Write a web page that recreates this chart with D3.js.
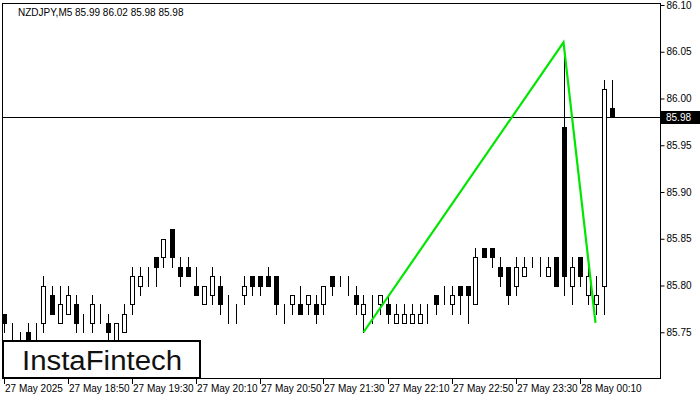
<!DOCTYPE html>
<html><head><meta charset="utf-8">
<script src="https://cdn.jsdelivr.net/npm/d3@7"></script>
<style>
html,body{margin:0;padding:0;background:#fff;}
svg{display:block;}
text{font-family:"Liberation Sans",Arial,sans-serif;}
</style></head>
<body>
<svg id="chart" width="700" height="400"></svg>
<script>
// ---- data ----
const symbolTitle = "NZDJPY,M5  85.99 86.02 85.98 85.98";
const opens  = [85.77,85.75,85.74,85.75,85.75,85.76,85.79,85.76,85.77,85.78,85.75,85.76,85.77,85.76,85.74,85.75,85.78,85.80,85.82,85.83,85.83,85.86,85.82,85.82,85.80,85.78,85.79,85.80,85.77,85.78,85.79,85.81,85.81,85.81,85.81,85.77,85.78,85.78,85.78,85.78,85.78,85.81,85.81,85.80,85.79,85.77,85.77,85.78,85.78,85.76,85.76,85.76,85.76,85.78,85.79,85.79,85.78,85.80,85.80,85.78,85.84,85.84,85.82,85.82,85.80,85.81,85.83,85.82,85.81,85.83,85.97,85.80,85.83,85.79,85.78,85.80,85.99];
const highs  = [85.77,85.76,85.75,85.76,85.76,85.81,85.80,85.80,85.80,85.79,85.77,85.79,85.78,85.77,85.76,85.78,85.82,85.82,85.82,85.83,85.85,85.86,85.83,85.83,85.82,85.80,85.82,85.81,85.79,85.78,85.81,85.81,85.81,85.82,85.81,85.78,85.79,85.80,85.79,85.79,85.80,85.81,85.81,85.81,85.80,85.79,85.79,85.79,85.79,85.78,85.78,85.78,85.78,85.78,85.79,85.80,85.80,85.80,85.80,85.84,85.84,85.84,85.83,85.82,85.83,85.83,85.83,85.83,85.83,85.83,86.05,85.83,85.83,85.82,85.81,86.02,86.02];
const lows   = [85.75,85.74,85.73,85.73,85.74,85.75,85.77,85.76,85.77,85.75,85.75,85.75,85.76,85.74,85.73,85.75,85.77,85.79,85.80,85.80,85.82,85.82,85.80,85.81,85.79,85.78,85.78,85.77,85.76,85.76,85.78,85.79,85.79,85.80,85.77,85.76,85.77,85.77,85.77,85.76,85.77,85.79,85.80,85.79,85.77,85.75,85.76,85.77,85.76,85.76,85.76,85.76,85.76,85.76,85.77,85.78,85.77,85.77,85.76,85.78,85.83,85.82,85.80,85.78,85.79,85.81,85.82,85.81,85.81,85.80,85.79,85.78,85.80,85.78,85.77,85.77,85.98];
const closes = [85.76,85.75,85.74,85.74,85.75,85.80,85.77,85.78,85.79,85.76,85.75,85.78,85.77,85.75,85.76,85.77,85.81,85.81,85.82,85.82,85.85,85.83,85.81,85.81,85.79,85.80,85.81,85.78,85.77,85.78,85.80,85.80,85.80,85.80,85.78,85.77,85.79,85.77,85.79,85.77,85.80,85.80,85.81,85.80,85.78,85.78,85.77,85.79,85.77,85.77,85.77,85.77,85.77,85.78,85.78,85.79,85.79,85.79,85.79,85.83,85.83,85.83,85.81,85.79,85.82,85.82,85.83,85.82,85.82,85.80,85.81,85.82,85.81,85.81,85.79,86.01,85.98];
const timeTickIndex  = [0,8,16,24,32,40,48,56,64,72];
const timeTickLabels = ["27 May 2025","27 May 18:50","27 May 19:30","27 May 20:10","27 May 20:50","27 May 21:30","27 May 22:10","27 May 22:50","27 May 23:30","28 May 00:10"];
const priceTicks = [85.75,85.80,85.85,85.90,85.95,86.00,86.05,86.10];
const lastPrice = 85.98;
const patternIndex = [45,70,74];
const patternPrice = [85.75,86.06,85.76];
const logoText = "InstaFintech";

// ---- layout ----
const svg = d3.select("#chart");
const L = 2, R = 660, T = 5, B = 379;
const x = d3.scaleLinear().domain([0, opens.length - 1]).range([3.5, 611.5]);
const y = d3.scaleLinear().domain([85.70, 86.10]).range([B, T]);

svg.append("rect").attr("x",0).attr("y",0).attr("width",700).attr("height",400).attr("fill","#fff");

svg.append("defs").append("clipPath").attr("id","plot")
  .append("rect").attr("x",L+1).attr("y",T).attr("width",R-L-1).attr("height",B-T);

const g = svg.append("g").attr("clip-path","url(#plot)").attr("shape-rendering","crispEdges");

// last price line
g.append("line").attr("x1",L).attr("x2",R).attr("y1",Math.round(y(lastPrice))+0.5).attr("y2",Math.round(y(lastPrice))+0.5)
  .attr("stroke","#000").attr("stroke-width",1);

const idx = d3.range(opens.length);
// wicks
g.selectAll("line.wick").data(idx).join("line").attr("class","wick")
  .attr("x1",i=>Math.round(x(i))+0.5).attr("x2",i=>Math.round(x(i))+0.5)
  .attr("y1",i=>Math.round(y(highs[i]))).attr("y2",i=>Math.round(y(lows[i]))+1)
  .attr("stroke","#000").attr("stroke-width",1);
// bodies
g.selectAll("rect.body").data(idx).join("rect").attr("class","body")
  .attr("x",i=>Math.round(x(i))-2+0.5)
  .attr("y",i=>Math.round(y(Math.max(opens[i],closes[i])))+0.5)
  .attr("width",4)
  .attr("height",i=>Math.round(y(Math.min(opens[i],closes[i])))-Math.round(y(Math.max(opens[i],closes[i]))))
  .attr("fill",i=>closes[i]<opens[i]?"#000":"#fff")
  .attr("stroke","#000").attr("stroke-width",1);

// pattern lines
const pline = d3.line().x(d=>x(d[0])).y(d=>y(d[1]));
svg.append("g").attr("clip-path","url(#plot)").append("path")
  .attr("d",pline(patternIndex.map((v,k)=>[v,patternPrice[k]])))
  .attr("fill","none").attr("stroke","#00e600").attr("stroke-width",2.2).attr("stroke-linejoin","miter");

// frame
svg.append("rect").attr("x",L+0.5).attr("y",T-1.5).attr("width",R-L).attr("height",B-T+1)
  .attr("fill","none").attr("stroke","#000").attr("stroke-width",1).attr("shape-rendering","crispEdges");

// right axis
const yAxis = d3.axisRight(y).tickValues(priceTicks).tickFormat(d3.format(".2f")).tickSize(4).tickPadding(2);
const ya = svg.append("g").attr("transform",`translate(${R+0.5},0)`).call(yAxis);
ya.select(".domain").remove();
ya.selectAll("text").attr("font-size","10px").attr("fill","#000").attr("font-family","Liberation Sans, Arial, sans-serif");
ya.selectAll("line").attr("stroke","#000");

// last price tag
const ly = y(lastPrice);
svg.append("rect").attr("x",R+1).attr("y",Math.round(ly)-6).attr("width",39).attr("height",13).attr("fill","#000");
svg.append("text").attr("x",R+6).attr("y",ly+4).attr("font-size","10px").attr("fill","#fff").text(d3.format(".2f")(lastPrice));

// bottom axis
const xa = svg.append("g");
xa.selectAll("line").data(timeTickIndex).join("line")
  .attr("x1",i=>Math.round(x(i))+0.5).attr("x2",i=>Math.round(x(i))+0.5)
  .attr("y1",B).attr("y2",B+5).attr("stroke","#000").attr("shape-rendering","crispEdges");
xa.selectAll("text").data(timeTickIndex).join("text")
  .attr("x",i=>Math.round(x(i))+1).attr("y",B+13)
  .attr("font-size","10px").attr("fill","#000")
  .text((d,k)=>timeTickLabels[k]);

// title
svg.append("text").attr("x",18).attr("y",16).attr("font-size","10px").attr("fill","#000").text(symbolTitle);

// logo
svg.append("rect").attr("x",3).attr("y",341).attr("width",197).attr("height",37)
  .attr("fill","#fff").attr("stroke","#000").attr("stroke-width",2);
svg.append("text").attr("x",22).attr("y",370).attr("font-size","27px")
  .attr("font-family","Roboto, sans-serif").attr("font-weight",500).attr("fill","#111")
  .attr("textLength",160).attr("lengthAdjust","spacingAndGlyphs").text(logoText);
</script>
</body></html>
